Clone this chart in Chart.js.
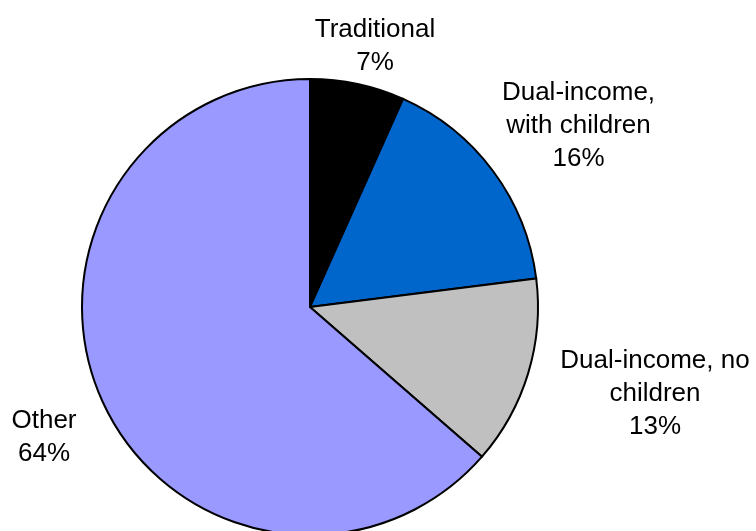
<!DOCTYPE html>
<html>
<head>
<meta charset="utf-8">
<script src="https://cdn.jsdelivr.net/npm/chart.js@4"></script>
<style>
  html, body { margin: 0; padding: 0; background: #ffffff; overflow: hidden; }
  #wrap { position: relative; width: 756px; height: 545px; }
</style>
</head>
<body>
<div id="wrap"><canvas id="c"></canvas></div>
<script>
const categories = ["Traditional", "Dual-income, with children", "Dual-income, no children", "Other"];
const shares = [6.7, 16.3, 13.4, 63.6];
const percentLabels = ["7%", "16%", "13%", "64%"];
const labelLines = [
  ["Traditional"],
  ["Dual-income,", "with children"],
  ["Dual-income, no", "children"],
  ["Other"]
];
const sliceColors = ["#000000", "#0066CC", "#C0C0C0", "#9999FF"];

// label anchor offsets relative to pie centre (x centre, first baseline)
const labelOffsets = [
  [65, -270],
  [268.5, -207],
  [345, 61],
  [-266, 121]
];

const labelPlugin = {
  id: 'outsideLabels',
  afterDatasetsDraw(chart) {
    const ctx = chart.ctx;
    const arc = chart.getDatasetMeta(0).data[0];
    const cx = arc.x, cy = arc.y;
    ctx.save();
    ctx.fillStyle = '#000000';
    ctx.font = '26px "Liberation Sans", Arial, sans-serif';
    ctx.textAlign = 'center';
    ctx.textBaseline = 'alphabetic';
    const lh = 33;
    categories.forEach((c, i) => {
      const lines = labelLines[i].concat([percentLabels[i]]);
      const [dx, dy] = labelOffsets[i];
      lines.forEach((t, k) => {
        ctx.fillText(t, cx + dx, cy + dy + k * lh);
      });
    });
    ctx.restore();
  }
};

new Chart(document.getElementById('c'), {
  type: 'pie',
  data: {
    labels: categories,
    datasets: [{
      data: shares,
      backgroundColor: sliceColors,
      borderColor: '#000000',
      borderWidth: 2,
      borderJoinStyle: 'miter'
    }]
  },
  options: {
    responsive: true,
    maintainAspectRatio: false,
    animation: false,
    devicePixelRatio: 1,
    layout: { padding: { left: 81, right: 217, top: 78, bottom: 9 } },
    plugins: {
      legend: { display: false },
      tooltip: { enabled: false },
      title: { display: false }
    }
  },
  plugins: [labelPlugin]
});
</script>
</body>
</html>
